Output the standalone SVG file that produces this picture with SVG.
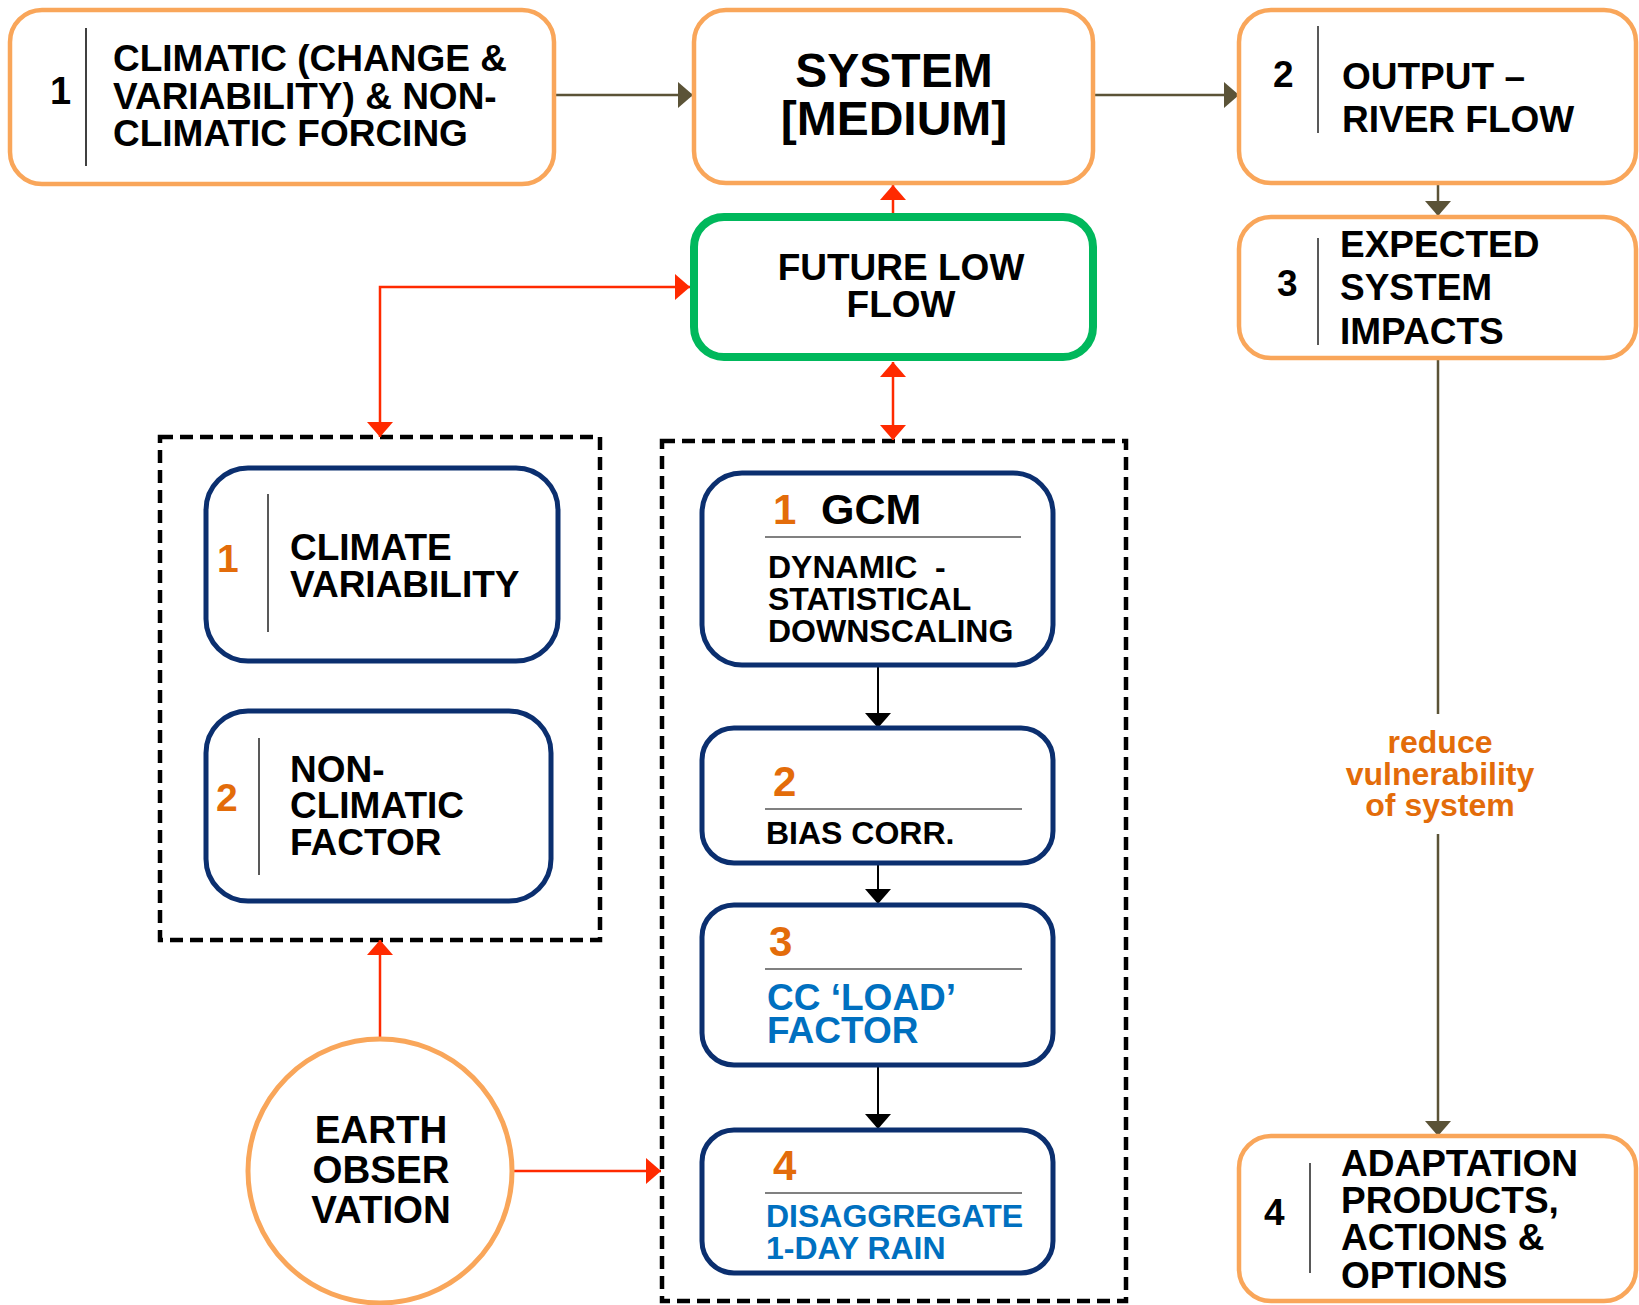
<svg xmlns="http://www.w3.org/2000/svg" width="1639" height="1305" viewBox="0 0 1639 1305">
<style>
text{font-family:"Liberation Sans",Arial,sans-serif;font-weight:bold;fill:#000}
.ob{fill:#fff;stroke:#F9A65A;stroke-width:4.5}
.nb{fill:#fff;stroke:#0B2F6F;stroke-width:5}
.dash{fill:none;stroke:#000;stroke-width:4.5;stroke-dasharray:13 7}
.sep{stroke:#595959;stroke-width:2}
.div{stroke:#808080;stroke-width:2}
.t37{font-size:37px}
.t32{font-size:32px}
.olive{stroke:#5B5337;stroke-width:2.5;fill:none}
.red{stroke:#FF2A00;stroke-width:2.5;fill:none}
.blk{stroke:#000;stroke-width:2;fill:none}
</style>
<defs>
<marker id="mo" viewBox="0 0 15 26" refX="15" refY="13" markerWidth="15" markerHeight="26" markerUnits="userSpaceOnUse" orient="auto-start-reverse"><path d="M0,0 L15,13 L0,26 z" fill="#5B5337"/></marker>
<marker id="mr" viewBox="0 0 15 26" refX="15" refY="13" markerWidth="15" markerHeight="26" markerUnits="userSpaceOnUse" orient="auto-start-reverse"><path d="M0,0 L15,13 L0,26 z" fill="#FF2A00"/></marker>
<marker id="mb" viewBox="0 0 15 26" refX="15" refY="13" markerWidth="15" markerHeight="26" markerUnits="userSpaceOnUse" orient="auto-start-reverse"><path d="M0,0 L15,13 L0,26 z" fill="#000"/></marker>
</defs>

<g id="group-left">
<rect class="dash" x="160" y="437" width="440" height="503"/>
</g>
<g id="group-right">
<rect class="dash" x="662" y="441" width="464" height="860"/>
</g>

<g id="connectors">
<line class="olive" x1="554" y1="95" x2="693" y2="95" marker-end="url(#mo)"/>
<line class="olive" x1="1095" y1="95" x2="1239" y2="95" marker-end="url(#mo)"/>
<line class="olive" x1="1438" y1="183" x2="1438" y2="216" marker-end="url(#mo)"/>
<line class="olive" x1="1438" y1="357" x2="1438" y2="714"/>
<line class="olive" x1="1438" y1="834" x2="1438" y2="1136" marker-end="url(#mo)"/>
<line class="red" x1="893" y1="213" x2="893" y2="185" marker-end="url(#mr)"/>
<line class="red" x1="893" y1="362" x2="893" y2="440" marker-start="url(#mr)" marker-end="url(#mr)"/>
<polyline class="red" points="690,287 380,287 380,437" marker-start="url(#mr)" marker-end="url(#mr)"/>
<line class="red" x1="380" y1="1038" x2="380" y2="940" marker-end="url(#mr)"/>
<line class="red" x1="513" y1="1171" x2="661" y2="1171" marker-end="url(#mr)"/>
<line class="blk" x1="878" y1="665" x2="878" y2="728" marker-end="url(#mb)"/>
<line class="blk" x1="878" y1="863" x2="878" y2="904" marker-end="url(#mb)"/>
<line class="blk" x1="878" y1="1065" x2="878" y2="1129" marker-end="url(#mb)"/>
</g>

<g id="forcing">
<rect class="ob" x="10" y="10" width="544" height="174" rx="32"/>
<line x1="86" y1="28" x2="86" y2="166" stroke="#000" stroke-width="1.5"/>
<text font-size="38" x="50" y="104">1</text>
<text class="t37"><tspan x="113" y="71">CLIMATIC (CHANGE &amp;</tspan><tspan x="113" y="109">VARIABILITY) &amp; NON-</tspan><tspan x="113" y="146">CLIMATIC FORCING</tspan></text>
</g>

<g id="system">
<rect class="ob" x="694" y="10" width="399" height="173" rx="32"/>
<text font-size="48" text-anchor="middle"><tspan x="894" y="87">SYSTEM</tspan><tspan x="894" y="135">[MEDIUM]</tspan></text>
</g>

<g id="output">
<rect class="ob" x="1239" y="10" width="397" height="173" rx="32"/>
<line class="sep" x1="1318" y1="26" x2="1318" y2="133"/>
<text class="t37" x="1273" y="87">2</text>
<text font-size="37"><tspan x="1342" y="89">OUTPUT –</tspan><tspan x="1342" y="132">RIVER FLOW</tspan></text>
</g>

<g id="impacts">
<rect class="ob" x="1239" y="217" width="397" height="141" rx="32"/>
<line class="sep" x1="1318" y1="238" x2="1318" y2="345"/>
<text class="t37" x="1277" y="296">3</text>
<text font-size="37"><tspan x="1340" y="257">EXPECTED</tspan><tspan x="1340" y="300">SYSTEM</tspan><tspan x="1340" y="344">IMPACTS</tspan></text>
</g>

<g id="label-reduce">
<text font-size="32" text-anchor="middle" style="fill:#E36C0A"><tspan x="1440" y="753">reduce</tspan><tspan x="1440" y="785">vulnerability</tspan><tspan x="1440" y="816">of system</tspan></text>
</g>

<g id="adaptation">
<rect class="ob" x="1239" y="1136" width="397" height="165" rx="32"/>
<line class="sep" x1="1310" y1="1163" x2="1310" y2="1273"/>
<text class="t37" x="1264" y="1225">4</text>
<text class="t37"><tspan x="1341" y="1176">ADAPTATION</tspan><tspan x="1341" y="1213">PRODUCTS,</tspan><tspan x="1341" y="1250">ACTIONS &amp;</tspan><tspan x="1341" y="1288">OPTIONS</tspan></text>
</g>

<g id="future-low-flow">
<rect x="694" y="217" width="399" height="140" rx="30" fill="#fff" stroke="#00B85C" stroke-width="8"/>
<text font-size="37" text-anchor="middle"><tspan x="901" y="280">FUTURE LOW</tspan><tspan x="901" y="317">FLOW</tspan></text>
</g>

<g id="climate-variability">
<rect class="nb" x="206" y="468" width="352" height="193" rx="42"/>
<line class="sep" x1="268" y1="494" x2="268" y2="632"/>
<text font-size="39" x="217" y="572" style="fill:#E36C0A">1</text>
<text class="t37"><tspan x="290" y="560">CLIMATE</tspan><tspan x="290" y="597">VARIABILITY</tspan></text>
</g>

<g id="non-climatic">
<rect class="nb" x="206" y="711" width="345" height="190" rx="42"/>
<line class="sep" x1="259" y1="738" x2="259" y2="875"/>
<text font-size="39" x="216" y="811" style="fill:#E36C0A">2</text>
<text class="t37"><tspan x="290" y="782">NON-</tspan><tspan x="290" y="818">CLIMATIC</tspan><tspan x="290" y="855">FACTOR</tspan></text>
</g>

<g id="gcm">
<rect class="nb" x="702" y="473" width="351" height="192" rx="40"/>
<text font-size="42" x="773" y="524" style="fill:#E36C0A">1</text>
<text font-size="43" x="821" y="524">GCM</text>
<line class="div" x1="765" y1="537" x2="1021" y2="537"/>
<text class="t32" xml:space="preserve"><tspan x="768" y="578">DYNAMIC  -</tspan><tspan x="768" y="610">STATISTICAL</tspan><tspan x="768" y="642">DOWNSCALING</tspan></text>
</g>

<g id="bias">
<rect class="nb" x="702" y="728" width="351" height="135" rx="32"/>
<text font-size="42" x="773" y="796" style="fill:#E36C0A">2</text>
<line class="div" x1="765" y1="809" x2="1022" y2="809"/>
<text class="t32" x="766" y="844">BIAS CORR.</text>
</g>

<g id="load-factor">
<rect class="nb" x="702" y="905" width="351" height="160" rx="32"/>
<text font-size="42" x="769" y="956" style="fill:#E36C0A">3</text>
<line class="div" x1="765" y1="969" x2="1022" y2="969"/>
<text class="t37" style="fill:#0070C0"><tspan x="767" y="1010">CC ‘LOAD’</tspan><tspan x="767" y="1043">FACTOR</tspan></text>
</g>

<g id="disaggregate">
<rect class="nb" x="702" y="1130" width="351" height="143" rx="32"/>
<text font-size="42" x="773" y="1180" style="fill:#E36C0A">4</text>
<line class="div" x1="765" y1="1193" x2="1022" y2="1193"/>
<text class="t32" style="fill:#0070C0"><tspan x="766" y="1227">DISAGGREGATE</tspan><tspan x="766" y="1259">1-DAY RAIN</tspan></text>
</g>

<g id="earth-observation">
<circle cx="380" cy="1171" r="132" fill="#fff" stroke="#F9A65A" stroke-width="5"/>
<text font-size="38.5" text-anchor="middle"><tspan x="381" y="1143">EARTH</tspan><tspan x="381" y="1183">OBSER</tspan><tspan x="381" y="1223">VATION</tspan></text>
</g>
</svg>
